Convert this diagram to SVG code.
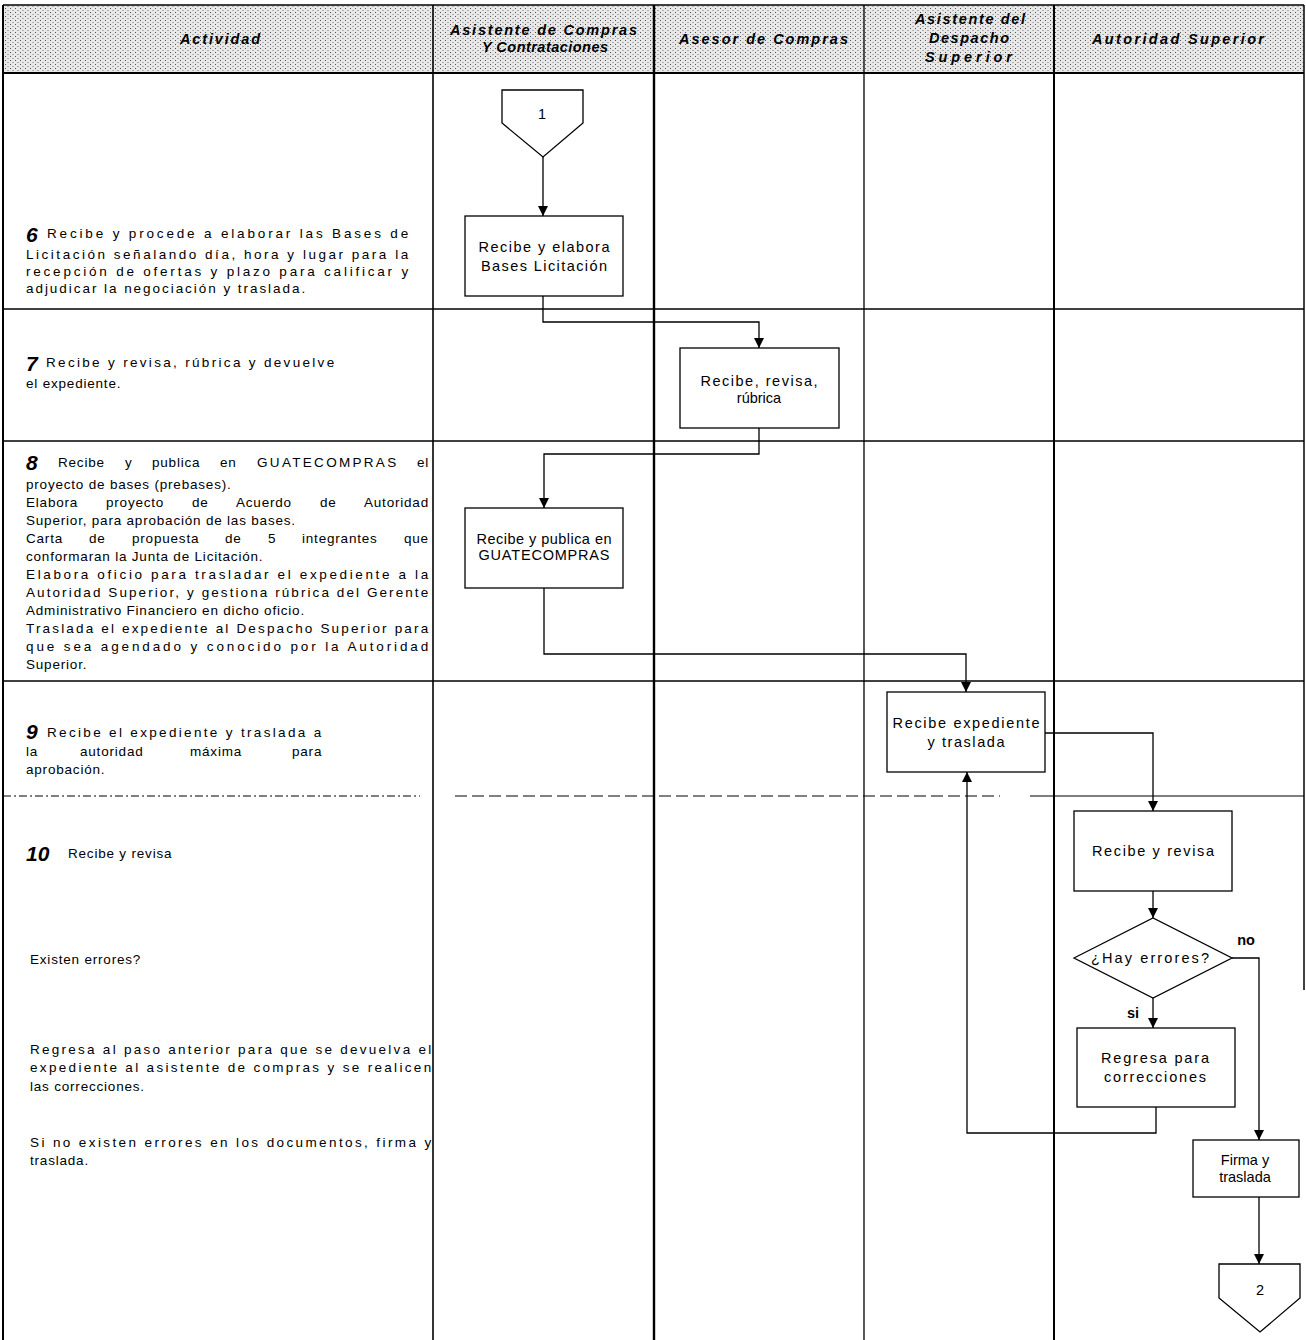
<svg xmlns="http://www.w3.org/2000/svg" width="1306" height="1340" viewBox="0 0 1306 1340">
<style>
.lt{font-family:"Liberation Sans",Arial,sans-serif;font-size:13.5px;letter-spacing:0.8px;fill:#000}
.num{font-family:"Liberation Sans",Arial,sans-serif;font-size:21px;font-weight:bold;font-style:italic;fill:#000}
.hd{font-family:"Liberation Sans",Arial,sans-serif;font-size:14.5px;font-weight:bold;font-style:italic;fill:#000}
.bx{font-family:"Liberation Sans",Arial,sans-serif;font-size:14.5px;fill:#000;text-anchor:middle}
.box{fill:#fff;stroke:#000;stroke-width:1.3}
.conn{fill:none;stroke:#000;stroke-width:1.3;marker-end:url(#arr)}
.grid{stroke:#000;fill:none}
</style>
<defs>
<marker id="arr" markerWidth="11" markerHeight="11" refX="10" refY="5" orient="auto" markerUnits="userSpaceOnUse">
<path d="M0,0 L10,5 L0,10 z" fill="#000"/>
</marker>
<pattern id="stip" width="5" height="4" patternUnits="userSpaceOnUse">
<rect width="5" height="4" fill="#e8e8e8"/>
<rect x="0" y="0" width="1" height="1" fill="#555"/>
<rect x="2.5" y="2" width="1" height="1" fill="#777"/>
</pattern>
</defs>
<rect width="1306" height="1340" fill="#fff"/>

<g id="table">
<rect x="3" y="5" width="1301" height="68" fill="url(#stip)"/>
<line class="grid" x1="3" y1="5" x2="1304" y2="5" stroke-width="1.5"/>
<line class="grid" x1="3" y1="73" x2="1304" y2="73" stroke-width="1.8"/>
<line class="grid" x1="3" y1="5" x2="3" y2="1340" stroke-width="2"/>
<line class="grid" x1="433" y1="5" x2="433" y2="1340" stroke-width="1.6"/>
<line class="grid" x1="654" y1="5" x2="654" y2="1340" stroke-width="2.4"/>
<line class="grid" x1="864" y1="5" x2="864" y2="1340" stroke-width="1.3"/>
<line class="grid" x1="1054" y1="5" x2="1054" y2="1340" stroke-width="2"/>
<line class="grid" x1="1304" y1="5" x2="1304" y2="990" stroke-width="1.5"/>
<line class="grid" x1="3" y1="309" x2="1304" y2="309" stroke-width="1.6"/>
<line class="grid" x1="3" y1="441" x2="1304" y2="441" stroke-width="1.4"/>
<line class="grid" x1="3" y1="681" x2="1304" y2="681" stroke-width="1.4"/>
<line class="grid" x1="3" y1="796" x2="420" y2="796" stroke-width="1" stroke-dasharray="8,3,2,3"/>
<line class="grid" x1="455" y1="796" x2="1000" y2="796" stroke-width="1" stroke-dasharray="12,5"/>
<line class="grid" x1="1030" y1="796" x2="1304" y2="796" stroke-width="1.2"/>
</g>

<g id="header">
<text class="hd" x="180" y="44" textLength="80" lengthAdjust="spacing">Actividad</text>
<text class="hd" x="450" y="35" textLength="187" lengthAdjust="spacing">Asistente de Compras</text>
<text class="hd" x="482" y="52" textLength="126" lengthAdjust="spacing">Y Contrataciones</text>
<text class="hd" x="679" y="44" textLength="169" lengthAdjust="spacing">Asesor de Compras</text>
<text class="hd" x="915" y="24" textLength="110" lengthAdjust="spacing">Asistente del</text>
<text class="hd" x="929" y="43" textLength="80" lengthAdjust="spacing">Despacho</text>
<text class="hd" x="925" y="62" textLength="87" lengthAdjust="spacing">Superior</text>
<text class="hd" x="1092" y="44" textLength="172" lengthAdjust="spacing">Autoridad Superior</text>
</g>

<g id="activities">
<text class="num" x="26" y="242">6</text>
<text class="lt" x="47" y="238" textLength="362" lengthAdjust="spacing">Recibe y procede a elaborar las Bases de</text>
<text class="lt" x="26" y="259" textLength="383" lengthAdjust="spacing">Licitación señalando día, hora y lugar para la</text>
<text class="lt" x="26" y="276" textLength="383" lengthAdjust="spacing">recepción de ofertas y plazo para calificar y</text>
<text class="lt" x="26" y="293" textLength="280" lengthAdjust="spacing">adjudicar la negociación y traslada.</text>

<text class="num" x="26" y="371">7</text>
<text class="lt" x="46" y="367" textLength="289" lengthAdjust="spacing">Recibe y revisa, rúbrica y devuelve</text>
<text class="lt" x="26" y="388">el expediente.</text>

<text class="num" x="26" y="470">8</text>
<text class="lt" y="467"><tspan x="58">Recibe</tspan><tspan x="125">y</tspan><tspan x="152">publica</tspan><tspan x="220">en</tspan><tspan x="257" textLength="140" lengthAdjust="spacing">GUATECOMPRAS</tspan><tspan x="417">el</tspan></text>
<text class="lt" x="26" y="489">proyecto de bases (prebases).</text>
<text class="lt" y="507"><tspan x="26">Elabora</tspan><tspan x="106">proyecto</tspan><tspan x="192">de</tspan><tspan x="236">Acuerdo</tspan><tspan x="320">de</tspan><tspan x="364">Autoridad</tspan></text>
<text class="lt" x="26" y="525">Superior, para aprobación de las bases.</text>
<text class="lt" y="543"><tspan x="26">Carta</tspan><tspan x="89">de</tspan><tspan x="132">propuesta</tspan><tspan x="225">de</tspan><tspan x="268">5</tspan><tspan x="302">integrantes</tspan><tspan x="404">que</tspan></text>
<text class="lt" x="26" y="561">conformaran la Junta de Licitación.</text>
<text class="lt" x="26" y="579" textLength="403" lengthAdjust="spacing">Elabora oficio para trasladar el expediente a la</text>
<text class="lt" x="26" y="597" textLength="403" lengthAdjust="spacing">Autoridad Superior, y gestiona rúbrica del Gerente</text>
<text class="lt" x="26" y="615">Administrativo Financiero en dicho oficio.</text>
<text class="lt" x="26" y="633" textLength="403" lengthAdjust="spacing">Traslada el expediente al Despacho Superior para</text>
<text class="lt" x="26" y="651" textLength="403" lengthAdjust="spacing">que sea agendado y conocido por la Autoridad</text>
<text class="lt" x="26" y="669">Superior.</text>

<text class="num" x="26" y="739">9</text>
<text class="lt" x="47" y="737" textLength="275" lengthAdjust="spacing">Recibe el expediente y traslada a</text>
<text class="lt" y="756"><tspan x="26">la</tspan><tspan x="80">autoridad</tspan><tspan x="190">máxima</tspan><tspan x="292">para</tspan></text>
<text class="lt" x="26" y="774">aprobación.</text>

<text class="num" x="26" y="861">10</text>
<text class="lt" x="68" y="858">Recibe y revisa</text>

<text class="lt" x="30" y="964">Existen errores?</text>
<text class="lt" x="30" y="1054" textLength="402" lengthAdjust="spacing">Regresa al paso anterior para que se devuelva el</text>
<text class="lt" x="30" y="1072" textLength="402" lengthAdjust="spacing">expediente al asistente de compras y se realicen</text>
<text class="lt" x="30" y="1091">las correcciones.</text>
<text class="lt" x="30" y="1147" textLength="402" lengthAdjust="spacing">Si no existen errores en los documentos, firma y</text>
<text class="lt" x="30" y="1165">traslada.</text>
</g>

<g id="connectors">
<path class="conn" d="M543,157 L543,216"/>
<path class="conn" d="M543,296 L543,322 L759,322 L759,348"/>
<path class="conn" d="M759,428 L759,454 L544,454 L544,508"/>
<path class="conn" d="M544,588 L544,654 L966,654 L966,692"/>
<path class="conn" d="M1045,733 L1153,733 L1153,811"/>
<path class="conn" d="M1153,891 L1153,918"/>
<path class="conn" d="M1153,998 L1153,1028"/>
<path class="conn" d="M1232,958 L1259,958 L1259,1140"/>
<path class="conn" d="M1156,1107 L1156,1133 L967,1133 L967,772"/>
<path class="conn" d="M1259,1197 L1259,1264"/>
<text class="bx" x="1246" y="945" font-weight="bold" font-size="12.5">no</text>
<text class="bx" x="1133" y="1018" font-weight="bold" font-size="12.5">si</text>
</g>

<g id="n_conector1">
<polygon class="box" points="502,90 583,90 583,123 543,157 502,123"/>
<text class="bx" x="542" y="119" font-size="12.5">1</text>
</g>
<g id="n_bases">
<rect class="box" x="465" y="216" width="158" height="80"/>
<text class="bx" x="544" y="252" textLength="131" lengthAdjust="spacing">Recibe y elabora</text>
<text class="bx" x="544" y="271" textLength="126" lengthAdjust="spacing">Bases Licitación</text>
</g>
<g id="n_revisa">
<rect class="box" x="680" y="348" width="159" height="80"/>
<text class="bx" x="759" y="386" textLength="117" lengthAdjust="spacing">Recibe, revisa,</text>
<text class="bx" x="759" y="403">rúbrica</text>
</g>
<g id="n_publica">
<rect class="box" x="465" y="508" width="158" height="80"/>
<text class="bx" x="544" y="544" font-size="12.5" textLength="135" lengthAdjust="spacing">Recibe y publica en</text>
<text class="bx" x="544" y="560" font-size="12.5" textLength="131" lengthAdjust="spacing">GUATECOMPRAS</text>
</g>
<g id="n_expediente">
<rect class="box" x="887" y="692" width="158" height="80"/>
<text class="bx" x="966" y="728" textLength="147" lengthAdjust="spacing">Recibe expediente</text>
<text class="bx" x="966" y="747" textLength="77" lengthAdjust="spacing">y traslada</text>
</g>
<g id="n_recibe_revisa">
<rect class="box" x="1074" y="811" width="158" height="80"/>
<text class="bx" x="1153" y="856" textLength="122" lengthAdjust="spacing">Recibe y revisa</text>
</g>
<g id="n_errores">
<polygon class="box" points="1074,958 1153,918 1232,958 1153,998"/>
<text class="bx" x="1150" y="963" textLength="118" lengthAdjust="spacing">¿Hay errores?</text>
</g>
<g id="n_regresa">
<rect class="box" x="1077" y="1028" width="158" height="79"/>
<text class="bx" x="1155" y="1063" textLength="108" lengthAdjust="spacing">Regresa para</text>
<text class="bx" x="1155" y="1082" textLength="102" lengthAdjust="spacing">correcciones</text>
</g>
<g id="n_firma">
<rect class="box" x="1193" y="1140" width="106" height="57"/>
<text class="bx" x="1245" y="1165">Firma y</text>
<text class="bx" x="1245" y="1182">traslada</text>
</g>
<g id="n_conector2">
<polygon class="box" points="1219,1264 1300,1264 1300,1298 1260,1332 1219,1298"/>
<text class="bx" x="1260" y="1295" font-size="12.5">2</text>
</g>
</svg>
